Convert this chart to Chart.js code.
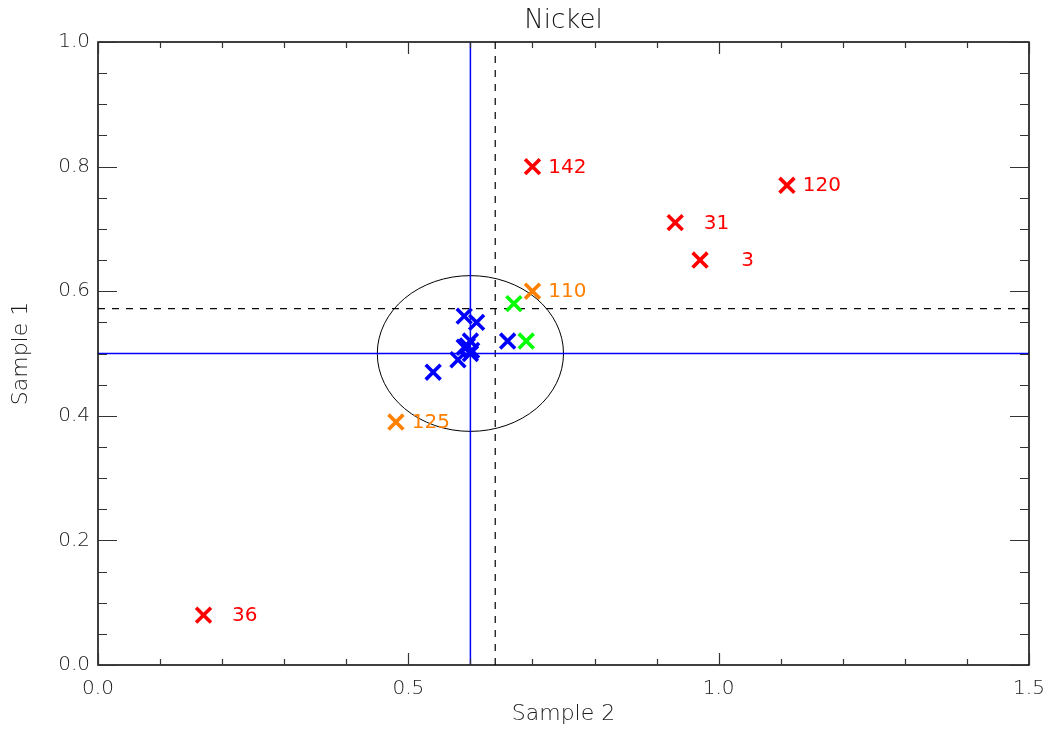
<!DOCTYPE html>
<html><head><meta charset="utf-8">
<script src="https://cdn.jsdelivr.net/npm/chart.js@4/dist/chart.umd.min.js"></script>
<style>html,body{margin:0;padding:0;background:#fff}#wrap{width:1053px;height:735px}</style>
</head><body><div id="wrap"><canvas id="c" width="1053" height="735"></canvas></div>
<script>
const TITLE = 'Nickel';
const X_TITLE = 'Sample 2';
const Y_TITLE = 'Sample 1';
const X_TICKS = [0.0, 0.5, 1.0, 1.5];
const Y_TICKS = [0.0, 0.2, 0.4, 0.6, 0.8, 1.0];

const redX = [0.70, 1.11, 0.93, 0.97, 0.17];
const redY = [0.80, 0.77, 0.71, 0.65, 0.08];
const redLabels = ['142', '120', ' 31', '  3', ' 36'];

const orangeX = [0.70, 0.48];
const orangeY = [0.60, 0.39];
const orangeLabels = ['110', '125'];

const greenX = [0.67, 0.69];
const greenY = [0.58, 0.52];

const blueX = [0.59, 0.61, 0.60, 0.66, 0.54, 0.58, 0.59, 0.60, 0.602, 0.595];
const blueY = [0.56, 0.55, 0.52, 0.52, 0.47, 0.49, 0.51, 0.50, 0.505, 0.512];

const MEDIAN_X = 0.6, MEDIAN_Y = 0.5;
const MEAN_X = 0.64, MEAN_Y = 0.572;
const ELLIPSE = {cx: 0.6, cy: 0.5, rx: 0.15, ry: 0.125};

const toPts = (xs, ys) => xs.map((x, i) => ({x, y: ys[i]}));

const markerDs = (label, xs, ys, color, labels) => ({
  label, data: toPts(xs, ys), labelsText: labels || null,
  pointStyle: 'crossRot', pointRadius: 10.5, pointHoverRadius: 10.5,
  borderColor: color, backgroundColor: color, pointBorderWidth: 3.6, showLine: false
});
const lineDs = (label, pts, color, dash, width) => ({
  label, data: pts, showLine: true, borderColor: color, backgroundColor: color, borderWidth: width || 1.2,
  borderDash: dash || [], pointRadius: 0, fill: false
});

const TICK_FONT = {family: 'DejaVu Sans', size: 20, weight: 200};

const frame = {
  id: 'frame',
  beforeDatasetsDraw(chart) {
    const {ctx} = chart; const xs = chart.scales.x, ys = chart.scales.y;
    const cx = xs.getPixelForValue(ELLIPSE.cx), cy = ys.getPixelForValue(ELLIPSE.cy);
    const rx = Math.abs(xs.getPixelForValue(ELLIPSE.cx + ELLIPSE.rx) - cx);
    const ry = Math.abs(ys.getPixelForValue(ELLIPSE.cy + ELLIPSE.ry) - cy);
    ctx.save();
    ctx.setLineDash([]);
    ctx.strokeStyle = '#000'; ctx.lineWidth = 1;
    ctx.beginPath(); ctx.ellipse(cx, cy, rx, ry, 0, 0, Math.PI * 2); ctx.stroke();
    ctx.restore();
  },
  afterDraw(chart) {
    const {ctx, chartArea: a} = chart; const xs = chart.scales.x, ys = chart.scales.y;
    ctx.save();
    ctx.setLineDash([]);
    ctx.strokeStyle = '#000'; ctx.lineWidth = 1.5;
    ctx.beginPath();
    ctx.rect(a.left, a.top, a.right - a.left, a.bottom - a.top);
    ctx.stroke();
    ctx.strokeStyle = '#333'; ctx.lineWidth = 1.2;
    ctx.beginPath();
    for (let i = 0; i <= 15; i++) {
      const v = i / 10; const p = Math.round(xs.getPixelForValue(v)) + 0.5;
      const len = (i % 5 === 0) ? 12 : 6;
      ctx.moveTo(p, a.bottom); ctx.lineTo(p, a.bottom - len);
      ctx.moveTo(p, a.top); ctx.lineTo(p, a.top + len);
    }
    for (let i = 0; i <= 20; i++) {
      const v = i / 20; const p = Math.round(ys.getPixelForValue(v)) + 0.5;
      const len = (i % 4 === 0) ? 19 : 9;
      ctx.moveTo(a.left, p); ctx.lineTo(a.left + len, p);
      ctx.moveTo(a.right, p); ctx.lineTo(a.right - len, p);
    }
    ctx.stroke();
    ctx.restore();
  },
  afterDatasetsDraw(chart) {
    const {ctx} = chart;
    ctx.save();
    ctx.font = '20px "DejaVu Sans"';
    ctx.textAlign = 'right'; ctx.textBaseline = 'middle';
    chart.data.datasets.forEach((ds, di) => {
      if (!ds.labelsText) return;
      const meta = chart.getDatasetMeta(di);
      meta.data.forEach((el, i) => {
        ctx.fillStyle = ds.borderColor;
        ctx.fillText(ds.labelsText[i].trim(), el.x + 54, el.y + 1);
      });
    });
    ctx.restore();
  }
};

new Chart(document.getElementById('c'), {
  type: 'scatter',
  data: {
    datasets: [
      markerDs('red', redX, redY, '#ff0000', redLabels),
      markerDs('orange', orangeX, orangeY, '#ff7f00', orangeLabels),
      markerDs('green', greenX, greenY, '#00ff00'),
      markerDs('blue', blueX, blueY, '#0000ff'),
      lineDs('medX', [{x: MEDIAN_X, y: 0}, {x: MEDIAN_X, y: 1}], '#0000ff', [], 1.5),
      lineDs('medY', [{x: 0, y: MEDIAN_Y}, {x: 1.5, y: MEDIAN_Y}], '#0000ff', [], 1.5),
      lineDs('meanX', [{x: MEAN_X, y: 0}, {x: MEAN_X, y: 1}], '#000000', [7, 7]),
      lineDs('meanY', [{x: 0, y: MEAN_Y}, {x: 1.5, y: MEAN_Y}], '#000000', [7, 7])
    ]
  },
  options: {
    responsive: false, animation: false, events: [],
    layout: {padding: {left: 0, right: 24, top: 0, bottom: 0}},
    plugins: {
      legend: {display: false}, tooltip: {enabled: false},
      title: {display: true, fullSize: false, text: TITLE, color: '#111',
        font: {family: 'DejaVu Sans', size: 26, weight: 200, lineHeight: 1},
        padding: {top: 8, bottom: 8}}
    },
    scales: {
      x: {
        type: 'linear', min: 0, max: 1.5,
        afterFit: s => { s.height = 70; s.paddingLeft = 0; s.paddingRight = 0; },
        afterBuildTicks: s => { s.ticks = X_TICKS.map(v => ({value: v})); },
        grid: {display: false, drawTicks: false}, border: {display: false},
        ticks: {color: '#1a1a1a', font: TICK_FONT, padding: 12, maxRotation: 0,
          callback: v => Number(v).toFixed(1)},
        title: {display: true, text: X_TITLE, color: '#1a1a1a',
          font: {family: 'DejaVu Sans', size: 22, weight: 200, lineHeight: 1.2}, padding: {top: 0, bottom: 8}}
      },
      y: {
        type: 'linear', min: 0, max: 1,
        afterFit: s => { s.width = 98; s.paddingTop = 0; s.paddingBottom = 0; },
        afterBuildTicks: s => { s.ticks = Y_TICKS.map(v => ({value: v})); },
        grid: {display: false, drawTicks: false}, border: {display: false},
        ticks: {color: '#1a1a1a', font: TICK_FONT, padding: 8,
          callback: v => Number(v).toFixed(1)},
        title: {display: true, text: Y_TITLE, color: '#1a1a1a',
          font: {family: 'DejaVu Sans', size: 22, weight: 200, lineHeight: 1.2}, padding: {top: 8, bottom: 0}}
      }
    }
  },
  plugins: [frame]
});
</script>
</body></html>
